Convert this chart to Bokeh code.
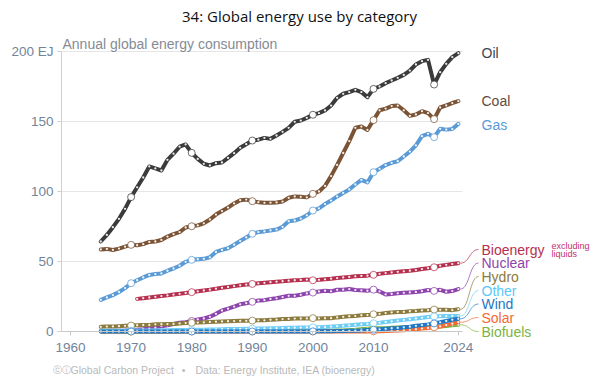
import numpy as np
from bokeh.plotting import figure
from bokeh.models import ColumnDataSource, Label, FixedTicker
from bokeh.embed import file_html
from bokeh.resources import INLINE

# ---------------- data (EJ) ----------------
years = list(range(1965, 2025))
bio_years = list(range(1971, 2025))

oil = [64.3, 69.0, 74.5, 80.5, 87.6, 96.0, 103.0, 110.0, 117.9, 116.5,
       115.0, 122.6, 127.0, 132.0, 133.6, 127.6, 123.3, 119.8, 118.6, 120.2,
       120.7, 124.0, 127.4, 131.2, 133.8, 136.4, 137.0, 138.3, 137.6, 140.0,
       142.6, 145.5, 149.8, 150.7, 152.6, 154.8, 156.0, 157.9, 161.4, 166.9,
       169.8, 171.0, 172.6, 171.0, 167.4, 173.3, 175.0, 177.4, 179.3, 181.2,
       183.3, 186.4, 190.7, 193.1, 194.0, 176.4, 185.2, 191.2, 196.0, 198.8]
coal = [58.6, 59.0, 58.2, 59.2, 60.6, 61.9, 61.6, 62.4, 64.0, 64.3,
        65.4, 67.8, 69.6, 71.0, 74.3, 75.2, 75.8, 77.3, 80.0, 83.5,
        86.0, 88.5, 91.5, 93.8, 94.2, 93.1, 92.4, 91.9, 92.0, 92.2,
        92.8, 95.5, 96.5, 96.2, 95.8, 98.3, 100.0, 104.0, 111.0, 119.0,
        127.5, 136.0, 145.5, 146.4, 144.0, 151.0, 158.0, 159.2, 161.0, 161.4,
        158.0, 154.0, 155.0, 157.4, 156.0, 151.7, 160.0, 161.5, 163.2, 164.5]
gas = [22.6, 24.3, 26.0, 28.2, 31.0, 34.5, 36.6, 38.6, 40.4, 41.0,
       41.5, 43.4, 45.0, 47.0, 49.8, 51.2, 51.6, 51.9, 53.0, 56.8,
       58.3, 59.5, 62.0, 64.6, 67.2, 69.8, 71.0, 71.5, 72.2, 72.8,
       74.8, 78.8, 79.3, 80.7, 83.0, 86.4, 88.0, 91.0, 93.5, 96.5,
       99.0, 101.5, 105.0, 108.3, 106.5, 113.8, 116.2, 118.9, 120.5, 121.6,
       125.0, 128.5, 133.0, 139.5, 141.2, 138.8, 144.8, 144.2, 144.6, 148.3]
bioenergy = [23.3, 23.8, 24.3, 24.8, 25.3, 25.8, 26.4, 26.9, 27.5, 28.1,
             28.7, 29.3, 29.9, 30.6, 31.2, 31.8, 32.4, 33.0, 33.5, 34.0,
             34.4, 34.8, 35.2, 35.6, 35.9, 36.3, 36.6, 36.8, 37.1, 36.6,
             36.9, 37.3, 37.7, 38.2, 38.6, 39.0, 39.4, 39.7, 39.9, 40.5,
             41.2, 41.7, 42.2, 42.6, 43.0, 43.4, 43.9, 44.6, 45.2, 45.9,
             47.0, 47.6, 48.2, 48.8]
nuclear = [0.3, 0.4, 0.5, 0.6, 0.7, 0.9, 1.2, 1.6, 2.1, 2.7,
           3.8, 4.4, 5.3, 6.2, 6.6, 7.5, 8.6, 9.3, 10.5, 12.6,
           15.0, 16.3, 17.8, 19.4, 20.2, 21.2, 22.1, 22.4, 23.2, 23.7,
           24.6, 25.5, 25.5, 26.2, 27.2, 27.8, 28.6, 29.1, 28.7, 29.8,
           29.9, 30.3, 29.6, 29.4, 29.1, 29.9, 28.6, 26.5, 26.8, 27.3,
           27.6, 27.9, 28.2, 28.8, 29.7, 29.0, 29.8, 28.4, 28.9, 30.3]
hydro = [3.31, 3.55, 3.65, 3.83, 4.07, 4.25, 4.45, 4.63, 4.72, 5.11,
         5.18, 5.29, 5.40, 5.76, 6.05, 6.23, 6.34, 6.55, 6.80, 7.02,
         7.16, 7.31, 7.42, 7.60, 7.63, 7.78, 7.96, 7.99, 8.39, 8.50,
         8.89, 9.00, 9.22, 9.29, 9.36, 9.54, 9.32, 9.47, 9.50, 10.08,
         10.51, 10.91, 11.05, 11.59, 11.70, 12.35, 12.60, 13.18, 13.64, 14.00,
         14.00, 14.47, 14.62, 15.05, 15.23, 15.66, 15.48, 15.59, 15.26, 15.91]
other = [0.5, 0.5, 0.55, 0.6, 0.6, 0.65, 0.7, 0.75, 0.8, 0.85,
         0.9, 0.95, 1.0, 1.05, 1.1, 1.15, 1.2, 1.3, 1.4, 1.5,
         1.6, 1.7, 1.8, 1.85, 1.9, 2.0, 2.1, 2.2, 2.3, 2.4,
         2.5, 2.6, 2.7, 2.8, 2.9, 3.0, 3.1, 3.3, 3.5, 3.8,
         4.1, 4.4, 4.8, 5.1, 5.4, 5.9, 6.3, 6.8, 7.3, 7.8,
         8.3, 8.8, 9.3, 9.8, 10.3, 10.7, 10.9, 11.0, 11.1, 11.0]
wind = [0.0, 0.0, 0.0, 0.0, 0.0, 0.0, 0.0, 0.0, 0.0, 0.0,
        0.0, 0.0, 0.0, 0.0, 0.0, 0.0, 0.0, 0.0, 0.0, 0.0,
        0.0, 0.0, 0.0, 0.0, 0.0, 0.01, 0.01, 0.02, 0.02, 0.03,
        0.03, 0.04, 0.05, 0.06, 0.08, 0.11, 0.14, 0.19, 0.23, 0.31,
        0.38, 0.48, 0.61, 0.79, 0.99, 1.23, 1.57, 1.88, 2.31, 2.56,
        3.0, 3.44, 4.04, 4.56, 5.1, 5.77, 6.58, 7.5, 8.4, 9.1]
solar = [0.0, 0.0, 0.0, 0.0, 0.0, 0.0, 0.0, 0.0, 0.0, 0.0,
         0.0, 0.0, 0.0, 0.0, 0.0, 0.0, 0.0, 0.0, 0.0, 0.0,
         0.0, 0.0, 0.0, 0.0, 0.0, 0.0, 0.0, 0.0, 0.0, 0.0,
         0.0, 0.0, 0.0, 0.0, 0.0, 0.0, 0.0, 0.0, 0.0, 0.0,
         0.02, 0.02, 0.03, 0.05, 0.07, 0.12, 0.23, 0.36, 0.49, 0.68,
         0.92, 1.18, 1.6, 2.1, 2.5, 3.0, 3.6, 4.6, 5.6, 6.6]
biofuels = [0.0, 0.0, 0.0, 0.0, 0.0, 0.0, 0.0, 0.0, 0.0, 0.0,
            0.01, 0.02, 0.05, 0.07, 0.1, 0.14, 0.2, 0.24, 0.3, 0.35,
            0.4, 0.38, 0.4, 0.4, 0.4, 0.42, 0.45, 0.45, 0.45, 0.47,
            0.5, 0.5, 0.5, 0.48, 0.45, 0.45, 0.48, 0.55, 0.62, 0.7,
            0.8, 1.0, 1.3, 1.7, 2.0, 2.3, 2.35, 2.4, 2.6, 2.8,
            2.9, 3.0, 3.1, 3.4, 3.6, 3.3, 3.6, 4.0, 4.4, 4.8]

series_names = ["Oil", "Coal", "Gas", "Bioenergy", "Nuclear", "Hydro",
                "Other", "Wind", "Solar", "Biofuels"]
series_values = [oil, coal, gas, bioenergy, nuclear, hydro, other, wind, solar, biofuels]
series_years = [years, years, years, bio_years, years, years, years, years, years, years]
line_colors = ["#3b3b3b", "#7b5335", "#5b9bd5", "#b5304f", "#8e44ad", "#8c7a3c",
               "#6fcdf5", "#1f77c4", "#f26a35", "#7cb342"]
label_colors = ["#3d4553", "#5f4a3e", "#5b9bd5", "#b5304f", "#8e44ad", "#8c7a3c",
                "#5ac8fa", "#1f77c4", "#f26a35", "#7cb342"]
# label vertical positions (page px) for the right-hand labels
label_py = [52, 100, 124, 249, 262.5, 276, 290, 303.5, 317, 331]
has_connector = [False, False, False, True, True, True, True, True, True, True]
draw_order = ["Oil", "Coal", "Gas", "Bioenergy", "Nuclear", "Hydro",
              "Biofuels", "Solar", "Other", "Wind"]
marker_years = [1970, 1980, 1990, 2000, 2010, 2020]
x_ticks = [1960, 1970, 1980, 1990, 2000, 2010, 2024]
y_ticks = [0, 50, 100, 150, 200]

# ---------------- layout (page pixels) ----------------
W, H = 596, 384
AX_L, AX_R = 61, 462        # plotting area left / right
PX_YR = 6.06
PX_EJ = 1.4
ZERO_PY = 331
x0 = 1960 - (70 - AX_L) / PX_YR

def dx(px):
    return x0 + (px - AX_L) / PX_YR

def dy(py):
    return (ZERO_PY - py) / PX_EJ

x_end = dx(AX_R)

p = figure(width=W, height=H, x_range=(dx(0), dx(W)), y_range=(dy(H), dy(0)),
           output_backend="svg", toolbar_location=None, min_border=0)
p.title.visible = False
p.outline_line_color = None
p.background_fill_color = "white"
p.border_fill_color = "white"
p.grid.visible = False

FONT = "Liberation Sans"
TICK_COL = "#72849a"

# grid lines restricted to the plotting area
gy = y_ticks[1:]
p.segment(x0=[x0] * len(gy), y0=gy, x1=[x_end] * len(gy), y1=gy,
          line_color="#e6e6e6", line_width=1)

p.yaxis.fixed_location = x0
p.yaxis.bounds = (y_ticks[0], y_ticks[-1])
p.yaxis.ticker = FixedTicker(ticks=y_ticks)
p.yaxis.major_label_overrides = {200: "200 EJ"}
p.yaxis.axis_line_color = "#cfcfcf"
p.yaxis.major_tick_line_color = "#cfcfcf"
p.yaxis.major_tick_out = 4
p.yaxis.major_tick_in = 0
p.yaxis.minor_tick_line_color = None
p.yaxis.major_label_standoff = 4
p.yaxis.major_label_text_font = FONT
p.yaxis.major_label_text_font_size = "13.5px"
p.yaxis.major_label_text_color = TICK_COL

p.xaxis.fixed_location = 0
p.xaxis.bounds = (x0, x_end)
p.xaxis.ticker = FixedTicker(ticks=x_ticks)
p.xaxis.axis_line_color = "#c8c8c8"
p.xaxis.major_tick_line_color = "#c8c8c8"
p.xaxis.major_tick_in = 0
p.xaxis.major_tick_out = 4
p.xaxis.minor_tick_line_color = None
p.xaxis.major_label_standoff = 7
p.xaxis.major_label_text_font = FONT
p.xaxis.major_label_text_font_size = "13.5px"
p.xaxis.major_label_text_color = TICK_COL

# ---------------- series ----------------
for name in draw_order:
    i = series_names.index(name)
    yrs = series_years[i]
    vals = series_values[i]
    col = line_colors[i]
    src = ColumnDataSource(dict(x=yrs, y=vals))
    p.line("x", "y", source=src, line_color=col, line_width=4, line_join="round", line_cap="round")
    p.scatter("x", "y", source=src, size=2.3, fill_color="white", line_color=None, fill_alpha=0.9)
    mx = [y for y in marker_years if y in yrs]
    my = [vals[yrs.index(y)] for y in mx]
    p.scatter(mx, my, size=7, fill_color="white", line_color=col, line_alpha=0.75, line_width=1)

# ---------------- labels & connectors ----------------
for i, name in enumerate(series_names):
    ly = dy(label_py[i])
    p.add_layout(Label(x=dx(481), y=ly, text=name, text_font=FONT, text_font_size="14px",
                       text_color=label_colors[i], text_baseline="middle", text_align="left"))
    if has_connector[i]:
        yend = series_values[i][-1]
        xs0, xs1 = series_years[i][-1] + 0.35, dx(478)
        xm = (xs0 + xs1) / 2
        t = np.linspace(0, 1, 20)
        bx = (1 - t) ** 3 * xs0 + 3 * (1 - t) ** 2 * t * xm + 3 * (1 - t) * t ** 2 * xm + t ** 3 * xs1
        by = (1 - t) ** 3 * yend + 3 * (1 - t) ** 2 * t * yend + 3 * (1 - t) * t ** 2 * ly + t ** 3 * ly
        p.line(list(bx), list(by), line_color=line_colors[i], line_alpha=0.7, line_width=1)

p.add_layout(Label(x=dx(551), y=dy(245), text="excluding", text_font=FONT, text_font_size="9px",
                   text_color="#c2306a", text_baseline="middle"))
p.add_layout(Label(x=dx(551), y=dy(253.5), text="liquids", text_font=FONT, text_font_size="9px",
                   text_color="#c2306a", text_baseline="middle"))

# title, subtitle, footer
p.add_layout(Label(x=dx(299), y=dy(15), text="34: Global energy use by category",
                   text_font="Open Sans", text_font_size="15px", text_color="#111111",
                   text_align="center", text_baseline="middle"))
p.add_layout(Label(x=dx(62), y=dy(43), text="Annual global energy consumption",
                   text_font=FONT, text_font_size="14px", text_color="#868b94",
                   text_align="left", text_baseline="middle"))
FOOT = "#b9b9b9"
p.add_layout(Label(x=dx(52), y=dy(369), text="ⓒⓘ", text_font="DejaVu Sans", text_font_size="8.5px",
                   text_color=FOOT, text_baseline="middle"))
p.add_layout(Label(x=dx(70), y=dy(369), text="Global Carbon Project", text_font=FONT,
                   text_font_size="10.5px", text_color=FOOT, text_baseline="middle"))
p.add_layout(Label(x=dx(183), y=dy(369), text="•", text_font=FONT, text_font_size="10.5px",
                   text_color=FOOT, text_baseline="middle", text_align="center"))
p.add_layout(Label(x=dx(195), y=dy(369), text="Data: Energy Institute, IEA (bioenergy)", text_font=FONT,
                   text_font_size="10.5px", text_color=FOOT, text_baseline="middle"))

open("out.html", "w").write(file_html(p, INLINE))
